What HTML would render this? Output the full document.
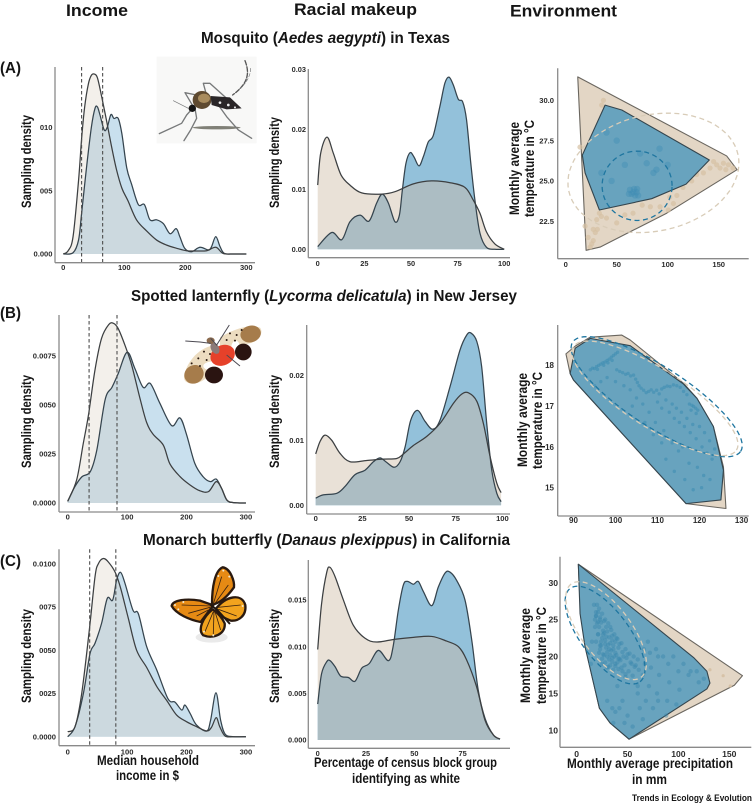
<!DOCTYPE html>
<html lang="en"><head><meta charset="utf-8"><title>Sampling density by income, racial makeup and environment</title>
<style>
html,body{margin:0;padding:0;background:#fff;width:754px;height:804px;overflow:hidden}
svg{display:block;filter:blur(.35px)}
text{font-family:"Liberation Sans",sans-serif;font-weight:700;fill:#151515}
.tick{fill:#2c2c2c}
</style></head><body>
<svg id="chart" xmlns="http://www.w3.org/2000/svg" width="754" height="804" viewBox="0 0 754 804">
<rect width="754" height="804" fill="#fff"/>
<defs id="defs"></defs>
<g id="marks"></g>

<g>
<text x="66" y="16" font-size="17" textLength="62" lengthAdjust="spacingAndGlyphs">Income</text>
<text x="294" y="15" font-size="17" textLength="123" lengthAdjust="spacingAndGlyphs">Racial makeup</text>
<text x="510" y="16.5" font-size="17" textLength="107" lengthAdjust="spacingAndGlyphs">Environment</text>
</g>
<g>
<text x="201" y="43" font-size="15.5" textLength="249" lengthAdjust="spacingAndGlyphs">Mosquito (<tspan font-style="italic">Aedes aegypti</tspan>) in Texas</text>
<text x="131" y="301" font-size="15.5" textLength="386" lengthAdjust="spacingAndGlyphs">Spotted lanternfly (<tspan font-style="italic">Lycorma delicatula</tspan>) in New Jersey</text>
<text x="143" y="545" font-size="15.5" textLength="367" lengthAdjust="spacingAndGlyphs">Monarch butterfly (<tspan font-style="italic">Danaus plexippus</tspan>) in California</text>
<text x="0" y="73" font-size="16" textLength="21" lengthAdjust="spacingAndGlyphs">(A)</text>
<text x="0" y="318" font-size="16" textLength="21" lengthAdjust="spacingAndGlyphs">(B)</text>
<text x="0" y="566" font-size="16" textLength="21" lengthAdjust="spacingAndGlyphs">(C)</text>
</g>
<g font-size="13.5" text-anchor="middle">
<text transform="translate(31,161.5) rotate(-90)" textLength="93" lengthAdjust="spacingAndGlyphs">Sampling density</text>
<text transform="translate(31,421.5) rotate(-90)" textLength="93" lengthAdjust="spacingAndGlyphs">Sampling density</text>
<text transform="translate(31,656) rotate(-90)" textLength="94" lengthAdjust="spacingAndGlyphs">Sampling density</text>
<text transform="translate(279,162.5) rotate(-90)" textLength="91" lengthAdjust="spacingAndGlyphs">Sampling density</text>
<text transform="translate(279,421.5) rotate(-90)" textLength="93" lengthAdjust="spacingAndGlyphs">Sampling density</text>
<text transform="translate(279,656) rotate(-90)" textLength="94" lengthAdjust="spacingAndGlyphs">Sampling density</text>
<text transform="translate(519,168.5) rotate(-90)" textLength="93" lengthAdjust="spacingAndGlyphs">Monthly average</text>
<text transform="translate(534,168.5) rotate(-90)" textLength="97" lengthAdjust="spacingAndGlyphs">temperature in °C</text>
<text transform="translate(527,420) rotate(-90)" textLength="94" lengthAdjust="spacingAndGlyphs">Monthly average</text>
<text transform="translate(542,420.5) rotate(-90)" textLength="97" lengthAdjust="spacingAndGlyphs">temperature in °C</text>
<text transform="translate(530,655.5) rotate(-90)" textLength="95" lengthAdjust="spacingAndGlyphs">Monthly average</text>
<text transform="translate(546,655.5) rotate(-90)" textLength="97" lengthAdjust="spacingAndGlyphs">temperature in °C</text>
<text x="148" y="765" textLength="102" lengthAdjust="spacingAndGlyphs">Median household</text>
<text x="147.5" y="780" textLength="63" lengthAdjust="spacingAndGlyphs">income in $</text>
<text x="405.5" y="767" textLength="183" lengthAdjust="spacingAndGlyphs">Percentage of census block group</text>
<text x="406" y="783" textLength="108" lengthAdjust="spacingAndGlyphs">identifying as white</text>
<text x="650" y="768" textLength="166" lengthAdjust="spacingAndGlyphs">Monthly average precipitation</text>
<text x="649.5" y="784" textLength="35" lengthAdjust="spacingAndGlyphs">in mm</text>
</g>
<text x="632" y="801" font-size="9.5" textLength="120" lengthAdjust="spacingAndGlyphs">Trends in Ecology &amp; Evolution</text>

<g transform="translate(0,40) scale(.3333)">
<rect x="470" y="50" width="300" height="260" fill="#f8f8f7"/>
<ellipse cx="650" cy="263" rx="72" ry="5" fill="#4d4d40" opacity=".7"/>
<g fill="none" stroke="#77797a" stroke-width="4" stroke-linecap="round" stroke-linejoin="round">
<path d="M478 281 L545 250 L560 225 L578 205"/>
<path d="M552 302 L572 270 L590 235 L585 205"/>
<path d="M755 295 L715 270 L680 230 L655 195"/>
<path d="M590 165 L555 158 L580 200"/>
<path d="M612 130 L630 130 L680 175"/>
<path d="M610 130 L625 185"/>
<path d="M520 182 L565 205" stroke-width="2"/>
<path d="M735 62 C750 100 745 130 698 165" stroke-dasharray="14 5" stroke="#555"/>
<path d="M752 85 C752 110 735 135 715 150" stroke-dasharray="10 6" stroke-width="2"/>
</g>
<ellipse cx="606" cy="180" rx="28" ry="27" fill="#5f4a30"/>
<ellipse cx="612" cy="175" rx="18" ry="14" fill="#a98c5e"/>
<path d="M632 168 L690 172 L725 205 L680 208 L635 195 Z" fill="#2a2628"/>
<circle cx="660" cy="188" r="4" fill="#eee"/><circle cx="685" cy="195" r="4" fill="#eee"/><circle cx="705" cy="202" r="3" fill="#eee"/>
<ellipse cx="577" cy="205" rx="11" ry="11" fill="#141414"/>
</g>

<g transform="translate(0,280) scale(.3333)">
<path d="M650 195 C600 198 558 245 552 292 C552 316 595 318 620 292 C640 270 655 240 662 215 Z" fill="#ecdcc0"/>
<ellipse cx="582" cy="283" rx="30" ry="27" fill="#a67c4b" transform="rotate(-35 582 283)"/>
<path d="M660 172 C700 148 750 130 780 143 C794 160 772 188 740 192 C710 198 680 208 660 205 Z" fill="#ecdcc0"/>
<ellipse cx="752" cy="162" rx="31" ry="25" fill="#a67c4b" transform="rotate(-15 752 162)"/>
<ellipse cx="640" cy="258" rx="30" ry="14" fill="#fff"/>
<ellipse cx="707" cy="208" rx="14" ry="26" fill="#fff"/>
<ellipse cx="642" cy="285" rx="27" ry="25" fill="#2a1411"/>
<ellipse cx="730" cy="216" rx="25" ry="25" fill="#2a1411"/>
<ellipse cx="668" cy="226" rx="38" ry="30" fill="#e6412a" transform="rotate(-25 668 226)"/>
<ellipse cx="645" cy="205" rx="12" ry="18" fill="#8b7a78" transform="rotate(-30 645 205)"/>
<ellipse cx="632" cy="182" rx="12" ry="10" fill="#8a6a4e"/>
<path d="M632 175 L650 195 L688 135 M632 190 L600 186 L556 183 M680 225 L720 258" fill="none" stroke="#4c4a52" stroke-width="3"/>
<g fill="#2a1a12"><circle cx="612" cy="215" r="3"/><circle cx="595" cy="235" r="3"/><circle cx="620" cy="240" r="3"/><circle cx="575" cy="250" r="3"/><circle cx="600" cy="258" r="3"/><circle cx="630" cy="222" r="3"/><circle cx="690" cy="160" r="3"/><circle cx="710" cy="165" r="3"/><circle cx="725" cy="150" r="3"/><circle cx="680" cy="180" r="3"/><circle cx="705" cy="182" r="3"/></g>
</g>

<g transform="translate(0,530) scale(.3333)">
<ellipse cx="635" cy="322" rx="48" ry="16" fill="#dcdcdc" opacity=".6"/>
<g stroke="#2a1a10" stroke-width="7" stroke-linejoin="round">
<path d="M640 226 L602 276 C570 270 528 252 515 228 C518 210 560 205 600 212 Z" fill="#e68a14"/>
<path d="M636 224 C636 170 645 122 668 112 C692 115 704 155 702 172 C682 200 660 220 636 224 Z" fill="#e68a14"/>
<path d="M648 236 C678 198 725 188 736 225 C740 258 715 274 693 272 C672 264 652 254 648 236 Z" fill="#f2a31e"/>
<path d="M638 238 C608 262 592 300 610 316 C640 328 678 312 674 280 C666 262 652 248 638 238 Z" fill="#f2a31e"/>
</g>
<g fill="none" stroke="#3a2210" stroke-width="2.5">
<path d="M635 228 L545 225 M630 232 L565 250 M625 240 L590 258 M640 222 L665 140 M645 220 L685 165 M655 232 L722 225 M655 238 L710 258 M640 245 L615 305 M642 245 L640 312 M645 245 L662 300"/>
</g>
<path d="M632 225 L652 240 L690 282" fill="none" stroke="#221711" stroke-width="6"/>
<g fill="#f4ead0"><circle cx="525" cy="225" r="3"/><circle cx="535" cy="238" r="3"/><circle cx="550" cy="216" r="3"/><circle cx="670" cy="122" r="3"/><circle cx="655" cy="138" r="3"/><circle cx="688" cy="140" r="3"/><circle cx="728" cy="228" r="3"/><circle cx="612" cy="305" r="3"/><circle cx="640" cy="316" r="3"/></g>
</g>
</svg>
<script>
// ---- Data. Density values are in units of 0.001. ----
const incomeTicks = [0, 100, 200, 300];
const raceTicks = [0, 25, 50, 75, 100];
const raceTicksC = [0, 25, 50, 75];
const precipTicks = [0, 50, 100, 150];
const precipTicksB = [90, 100, 110, 120, 130];

const aIncomeYTicks = [0, 5, 10];
const aIncomeYLabels = ['0.000', '005', '010'];
const bIncomeYTicks = [0, 2.5, 5, 7.5];
const bIncomeYLabels = ['0.0000', '0025', '0050', '0.0075'];
const cIncomeYTicks = [0, 2.5, 5, 7.5, 10];
const cIncomeYLabels = ['0.0000', '0025', '0050', '0075', '0.0100'];
const aRaceYTicks = [0, 10, 20, 30];
const aRaceYLabels = ['0.00', '0.01', '0.02', '0.03'];
const bRaceYTicks = [0, 10, 20];
const bRaceYLabels = ['0.00', '0.01', '0.02'];
const cRaceYTicks = [0, 5, 10, 15];
const cRaceYLabels = ['0.000', '0.005', '0.010', '0.015'];
const aTempTicks = [22.5, 25, 27.5, 30];
const aTempLabels = ['22.5', '25.0', '27.5', '30.0'];
const bTempTicks = [15, 16, 17, 18];
const bTempLabels = ['15', '16', '17', '18'];
const cTempTicks = [10, 15, 20, 25, 30];
const cTempLabels = ['10', '15', '20', '25', '30'];

const aIncomeMedians = [30, 64.5];
const bIncomeMedians = [36, 83];
const cIncomeMedians = [37, 81];

const aIncomeCensusX = [0,8,16,25,30,35,41,46,51,56,63,71,79,87,96,106,120,137,153,169,186,202,219,235,250,262,279,300];
const aIncomeCensusY = [0,.26,1.37,5.8,9.1,11.6,13.4,14.1,14.2,13.9,12.4,10.5,8.5,6.7,5.2,4.2,2.7,1.8,1.1,.71,.45,.26,.24,.26,.53,.05,0,0];
const aIncomeSampleX = [0,16,25,30,38,46,52,56,60,67,72,78,83,90,96,104,112,123,133,142,153,164,175,185,191,199,210,224,238,243,250,257,264,279,300];
const aIncomeSampleY = [0,.1,1.1,3.2,6.8,10,11.5,11.6,11,9.8,10,11,10.7,10.7,9.5,6.8,5.5,3.9,3.9,2.7,2.7,2.4,1.6,2,1.37,.45,.18,.53,.32,.58,1.37,.58,.05,0,0];

const aRaceCensusX = [0,1.6,5,8.4,12.5,17.3,23.6,34.3,41.4,51.3,61,71,79,83.4,87,90.5,95,100];
const aRaceCensusY = [10.7,16,18.7,16,12.4,10.7,9.4,9.2,9.6,10.9,11.4,11.1,10.3,8.2,6,2.9,.9,0];
const aRaceSampleX = [0,7.5,12.9,17.3,22.7,27.5,31.6,34.6,37.9,41.4,43.8,45.4,47.3,49.5,51.6,54.3,56.6,59.3,62,65.5,68.2,70.4,72.7,75.4,77.7,79.8,82.1,84.3,87,90.5,95,100];
const aRaceSampleY = [.45,2.8,1.6,4.6,5.7,4.7,7.7,9.2,7.7,4.6,5.7,9.9,14.3,16.1,15.4,13.9,15.4,17.9,19,23.8,27.7,28.7,27.4,25,24.6,21.6,14.3,8.2,2.7,.33,0,0];

const bIncomeCensusX = [0,15,26,35,46,57,69,77,85,97,108,122,133,144,161,172,189,206,222,237,250,259,268,279,300];
const bIncomeCensusY = [.085,1.17,3,4.5,6.8,8.4,9.1,9.17,8.9,8,7,5.3,4.1,3.5,2.95,2,1.35,.92,.63,.58,1.09,.75,.15,.02,0];
const bIncomeSampleX = [0,12,24,38,49,63,74.5,85,100,113,127,139,155,175,189,200,214,228,240,250,259,268,279,300];
const bIncomeSampleY = [.085,.83,1.34,1.6,2.7,5.27,5.9,6.6,7.69,6.87,5.9,6.1,5.1,3.95,4.34,3.5,2.02,1.34,1.09,1.22,.75,.15,.02,0];

const bRaceCensusX = [0,2.3,5,8.6,13,18.4,27.3,36,43.4,47,52.3,59.5,66.6,73.8,78.2,81.8,86.3,89.8,93.4,97,99.3];
const bRaceCensusY = [7.9,9.8,10.8,10,8,6.7,6.9,7.1,7.2,7.9,9.2,10.6,12.6,15.7,17.1,17.3,16,12.6,7.5,3.4,1.95];
const bRaceSampleX = [0,4,11.3,15.7,21,26.4,30.9,34.5,38,42,45.2,47.9,50.9,54.6,58.6,62.7,66.6,72,77.3,80.9,83.2,86.3,88.9,91.6,94.3,97,99.3];
const bRaceSampleY = [1.1,1.6,1.85,2.9,4.7,5.4,6.7,7.3,6.6,5.85,6.7,9,13.1,14.6,12.9,11.7,13.1,18.3,23.9,26.2,26.5,25.2,21.3,12.6,5.4,1.85,.56];

const cIncomeCensusX = [0,12.3,23.6,36.5,46,51.6,60,68.4,80,89,102,116,133,150,166.6,183.4,200,217,234,242,250,256,265,279,300];
const cIncomeCensusY = [.29,.58,2.5,6.2,9.25,10,10.3,10.1,9.5,8.6,6.85,5,4,2.9,2.1,1.25,.87,.58,.33,.54,1.1,.58,.04,0,0];
const cIncomeSampleX = [0,12.3,26.4,37.6,46,57,66.7,75.7,82.4,89,96.5,110,119,133,150,169,180.6,192,197.4,206,217,234,240.6,249.6,257.4,265,279,300];
const cIncomeSampleY = [0,.58,2.5,4.8,5.4,6.55,8,7.9,9.06,9.5,8.86,7.3,7.1,5.2,3.85,2.18,2,1.54,1.83,1.35,.67,.33,.96,2.54,.96,.15,0,0];

const cRaceCensusX = [0,2,4.7,6.4,9,13.3,18.4,24.5,30.5,40,49.5,59,66.7,72.8,77,82.2,86.6,90.9,94.3];
const cRaceCensusY = [9.7,14.6,18,18.5,17.5,15,12.3,10.9,10.5,10.8,11,11.1,10.6,10,8.6,5.7,2.1,.54,.1];
const cRaceSampleX = [0,2,4.7,6.4,9,11.9,15.9,19.3,22.8,26.7,31.4,36.6,39,41.7,44.3,46.4,49.5,52,54.7,59,62.4,65.9,68.4,71.9,76.2,79.7,83,86.6,90.9,94.3];
const cRaceSampleY = [3.85,7.1,8.4,8.5,7.85,6.85,6.7,6.3,7.7,8.2,9.6,8.5,10,13.9,16.6,17,16.7,17,15.9,14.4,16.4,17.9,18,17.1,15,10.7,5.4,2.3,.54,.1];

const aHullCensusPrecip = [11.8,157.8,168,99,33.7,20];
const aHullCensusTemp = [31.45,26.55,25.7,23,20.9,20.7];
const aHullSamplePrecip = [38.6,55,140.8,118,84.3,33,19,16.3];
const aHullSampleTemp = [29.7,29.4,26.3,24.8,23.9,23.2,25.5,26.6];
const bHullCensusPrecip = [88.2,90.4,94,101.5,103.5,116.2,119.4,123.3,125.7,126.3,116.8,90,89.2];
const bHullCensusTemp = [18.28,18.47,18.69,18.74,18.62,17.56,17.19,16.5,15.51,14.49,14.61,17.64,17.8];
const bHullSamplePrecip = [89.2,90.4,94,103.5,116.2,119.4,123.3,125.7,125.1,116.8,90];
const bHullSampleTemp = [17.8,18.42,18.66,18.48,17.54,17.19,16.5,15.43,14.7,14.61,17.64];
const cHullCensusPrecip = [1.6,163,155,51.5,32.8,22.3,11.5,3.9];
const cHullCensusTemp = [32.5,17.4,16.1,8.8,11,13,19.5,25.4];
const cHullSamplePrecip = [1.6,115.4,128,131,128,51.5,32.8,22.3,8.2,3.3];
const cHullSampleTemp = [32.5,19.8,18,16.4,15.6,8.8,11,13,21.3,25.8];

// Niche ellipses: centre, then the two semi-axis vectors, in data units.
const aEllipseCensus = [86,25.5, 83,1.12, -11.8,3.53];
const aEllipseSample = [70,24.7, 34.3,0, 0,2.15];
const bEllipseCensus = [109.4,17.19, 19.4,-1.27, 3.8,.6];
const bEllipseSample = [109.8,17.23, 20,-1.34, 3.9,.61];
const cEllipseCensus = [28.9,23.5, 34.4,-6.32, 19.7,2.03];
const cEllipseSample = [27.9,22.9, 34.4,-6.32, 19,1.99];

const aCensusPointsPrecip = [27,31,30.4,33,25.5,35,29,148,154.6,159.5,164,141.5,135,128.4,123.5,109,105.6,100.6,37,35.3,14,19,27,50,66,83,92.5,151.3,157,145,115,102,24,22,40,58,75];
const aCensusPointsTemp = [21.3,22,22.6,23,21.1,22.8,21.8,26,26.1,26,25.8,25.8,25.5,25.4,25,24.1,23.6,23.2,30,29.7,27.1,22.2,22,22.4,23,23.4,23.4,25.8,25.7,26.2,24.6,24,20.9,21.5,22.7,22.9,23.5];
const aSamplePointsPrecip = [66.3,63,69.6,68,71,64.7,67,62,70,86,89,73,79.4,50,45,58,92,100,40,35];
const aSamplePointsTemp = [24.3,24.45,24.3,24.1,24.1,24.2,24.5,24.2,24.5,25.5,25.7,26.7,26.1,27.5,25,26,27,26,28,25.5];
const bPointsPrecip = [94,94.5,95,95.5,96,96.5,97,97.5,98,98.5,99,99.5,100,100.5,95.7,97.2,98.2,99.2,100.3,101,101.7,102.4,103,103.6,104.3,104.8,105.2,105.6,106.1,106.7,107.3,107.9,108.5,109.1,109.8,110.4,111,111.6,112.3,113,113.8,114.6,115.4,116.2,117,117.6,118.2,118.6,119.1,119.6,118,119.2,110,111,112,112.8,113.5,114,114.5,115.2,115.7,116.4,117,117.8,118.4,119.2,120,120.6,121.2,121.8,122.4,123,123.6,116,117.5,119.5,121,120.5,122.5,115,113.5,111.5,109.5,108,106.5,105,103.5,102,100,98,96.5,95,112,114,116.5,118.5,104,107,109,111];
const bPointsTemp = [17.89,17.93,17.92,17.97,18,18.03,18.06,18.08,18.12,18.15,18.2,18.24,18.28,18.32,17.9,18,18.06,18.12,17.89,17.85,17.82,17.78,17.8,17.74,17.76,17.66,17.58,17.5,17.44,17.39,17.33,17.36,17.4,17.34,17.39,17.3,17.42,17.46,17.49,17.48,17.52,17.5,17.46,17.36,17.28,17.05,17.02,16.99,16.95,16.9,16.9,16.82,17.1,16.95,17.15,16.85,17.05,16.7,16.95,16.6,16.85,16.5,16.7,16.35,16.55,16.2,16.5,16,16.35,15.85,16.15,15.7,15.95,16,15.6,15.5,15.3,15,15.2,15.9,16.1,16.4,16.6,16.85,17.05,17.2,17.4,17.5,17.6,17.7,17.6,17.5,15.7,15.4,15.2,14.95,17,16.6,16.3,16.1];
const cPointsPrecip = [18,19,17,18,20,21,19,20,21,19,22,23,22,21,23,22,25,24,26,25,24,26,25,28,29,27,28,29,27,28,31,30,32,31,30,32,31,34,35,33,34,35,33,37,38,36,37,38,36,40,41,39,40,41,44,45,43,44,48,49,47,48,52,53,51,56,57,55,60,61,66,67,65,72,73,71,80,81,79,90,91,89,100,101,60,62,45,47,40,38,35,110,120,15,14,19,21,23,24,26,27,29,30,32,33,35,36,38,39,41,42,46,50,54,58,23,25,28,30,33,35,38,42,45,48,70,78,85,95,105,112,60,68,75,88,98,50,55,42,65,80,118,125,30,36];
const cPointsTemp = [25,26,27,24,27,26,25.5,24.5,23,22,26.5,25,24,23,21.5,20.5,25.8,24.6,23.5,22.5,21.5,20.3,19,25,24,23.2,22.2,21.2,20.2,19.2,24.5,23.4,22.6,21.6,20.6,19.6,18.6,23.6,22.8,21.8,20.8,19.8,18.8,23,22,21,20,19,18.2,22.4,21.2,20.2,19.2,18.3,21.8,20.6,19.5,18.5,21,19.8,18.8,17.6,20.4,19.2,18,20,18.6,17.4,19.6,18.2,21,19,17.5,20.5,18.5,16,20,17.5,15,19,16.5,14,18,15.5,15,13,14,11,16,12.5,13,17.5,16.5,22,19,25.5,24.7,25.3,22,23,24.8,22.7,20,21,24,19.3,21.5,20.5,22.5,19.7,21.7,20,20.3,19,18.8,21,19.7,21.7,18.5,20.2,22.2,18.7,19.7,18,17.2,22,21,20,20,19,18,16,14,13,12,13.5,12,10.5,13,11.5,14,18,17,14,11];
const cCensusPointsPrecip = [144,151,131,82,90];
const cCensusPointsTemp = [17.4,16,18.2,23,22.1];

// ---- Layout (pixel calibration of each panel's axes) ----
const frames = {
  aIncome:{left:55,top:67,bottom:262.7,right:255,x0:63.3,xk:.61,y0:254,yk:12.67,labelRight:52.5,tickBase:270,fs:7.6},
  aRace:{left:308.3,top:69,bottom:257.7,right:510,x0:317.7,xk:1.865,y0:249.3,yk:6,labelRight:306,tickBase:266,fs:7.4},
  aEnv:{left:557.7,top:68.3,bottom:258.7,right:748.7,x0:565.7,xk:1.02,y0:100.3+30*16.13,yk:16.13,labelRight:554,tickBase:267,fs:7.6},
  bIncome:{left:59,top:315,bottom:512,right:255,x0:67.7,xk:.594,y0:503,yk:19.6,labelRight:56,tickBase:519.5,fs:7.6},
  bRace:{left:306.7,top:325,bottom:514,right:510,x0:315.7,xk:1.867,y0:505.3,yk:6.5,labelRight:304,tickBase:521,fs:7.6},
  bEnv:{left:557.7,top:325,bottom:516,right:748.7,x0:573.5-90*4.2,xk:4.2,y0:487.7+15*40.8,yk:40.8,labelRight:554,tickBase:523,fs:8},
  cIncome:{left:59,top:549.3,bottom:745.7,right:255,x0:67.7,xk:.594,y0:736.7,yk:17.3,labelRight:56,tickBase:754.5,fs:7.6},
  cRace:{left:308.3,top:560,bottom:748.3,right:510,x0:317.7,xk:1.933,y0:740,yk:9.33,labelRight:306.5,tickBase:756,fs:7.4},
  cEnv:{left:560,top:556.7,bottom:747.3,right:751.3,x0:576.7,xk:1.017,y0:730.3+10*7.38,yk:7.38,labelRight:558,tickBase:757,fs:8.6}
};
const incomeColors = {tan:'#f3f0eb', blue:'#c9e0ee', both:'#ccd9df'};
const raceColors = {tan:'#e9e1d7', blue:'#93c1da', both:'#acbdc3'};

const root = document.getElementById('marks');
const defs = document.getElementById('defs');
const NS = 'http://www.w3.org/2000/svg';
function make(tag, parent, attrs) {
  const n = document.createElementNS(NS, tag);
  for (const k in attrs) n.setAttribute(k, attrs[k]);
  parent.appendChild(n);
  return n;
}
function scaleX(f, v) { return f.x0 + v * f.xk; }
function scaleY(f, v) { return f.y0 - v * f.yk; }
function smoothPath(pts) {
  let d = 'M' + pts[0][0].toFixed(2) + ' ' + pts[0][1].toFixed(2);
  for (let i = 0; i < pts.length - 1; i++) {
    const p0 = pts[Math.max(0, i - 1)], p1 = pts[i], p2 = pts[i + 1], p3 = pts[Math.min(pts.length - 1, i + 2)];
    const c1x = p1[0] + (p2[0] - p0[0]) / 6, c1y = p1[1] + (p2[1] - p0[1]) / 6;
    const c2x = p2[0] - (p3[0] - p1[0]) / 6, c2y = p2[1] - (p3[1] - p1[1]) / 6;
    d += ' C' + c1x.toFixed(2) + ' ' + c1y.toFixed(2) + ' ' + c2x.toFixed(2) + ' ' + c2y.toFixed(2) + ' ' + p2[0].toFixed(2) + ' ' + p2[1].toFixed(2);
  }
  return d;
}
function drawAxes(g, id, f, xTicks, yTicks, yLabels) {
  const yAxis = make('line', g, {x1:f.left, x2:f.left, y1:f.top, y2:f.bottom, stroke:'#8a8a8a', 'stroke-width':1.3});
  
  
  const xAxis = make('line', g, {x1:f.left, x2:f.right, y1:f.bottom, y2:f.bottom, stroke:'#8a8a8a', 'stroke-width':1.3});
  
  
  xTicks.forEach(function (v) {
    const label = make('text', g, {x:scaleX(f, v), y:f.tickBase, 'font-size':f.fs, 'text-anchor':'middle', class:'tick'});
    
    
    label.textContent = String(v);
  });
  yTicks.forEach(function (v, i) {
    const label = make('text', g, {x:f.labelRight, y:scaleY(f, v) + f.fs * .36, 'font-size':f.fs, 'text-anchor':'end', class:'tick'});
    
    
    label.textContent = yLabels[i];
  });
}
function curvePoints(f, xs, ys) {
  const pts = [];
  const count = Math.min(xs.length, ys.length);
  for (let i = 0; i < count; i++) pts.push([scaleX(f, xs[i]), scaleY(f, ys[i])]);
  return pts;
}
function drawDensity(id, f, colors, tanX, tanY, blueX, blueY, xTicks, yTicks, yLabels, medians) {
  const g = make('g', root, {});
  
  
  const tanPts = curvePoints(f, tanX, tanY), bluePts = curvePoints(f, blueX, blueY);
  const base = scaleY(f, 0);
  const close = function (pts) { return ' L' + pts[pts.length - 1][0].toFixed(2) + ' ' + base + ' L' + pts[0][0].toFixed(2) + ' ' + base + ' Z'; };
  const tanLine = smoothPath(tanPts), blueLine = smoothPath(bluePts);
  const clip = make('clipPath', defs, {id:'clip-' + id});
  make('path', clip, {d:blueLine + close(bluePts)});
  const tanArea = make('path', g, {d:tanLine + close(tanPts), fill:colors.tan});
  
  
  const blueArea = make('path', g, {d:blueLine + close(bluePts), fill:colors.blue});
  
  
  const both = make('path', g, {d:tanLine + close(tanPts), fill:colors.both, 'clip-path':'url(#clip-' + id + ')'});
  
  
  const blueStroke = make('path', g, {d:blueLine, fill:'none', stroke:'#35444e', 'stroke-width':1.25});
  
  
  const tanStroke = make('path', g, {d:tanLine, fill:'none', stroke:'#3c3f41', 'stroke-width':1.25});
  
  
  medians.forEach(function (v) {
    const m = make('line', g, {x1:scaleX(f, v), x2:scaleX(f, v), y1:f.top, y2:f.bottom, stroke:'#4d4d4d', 'stroke-width':1.1, 'stroke-dasharray':'3.5 2.5'});
    
    
  });
  drawAxes(g, id, f, xTicks, yTicks, yLabels);
}
function drawHull(g, f, xs, ys, fill, stroke, name) {
  const pts = curvePoints(f, xs, ys).map(function (p) { return p[0].toFixed(2) + ',' + p[1].toFixed(2); }).join(' ');
  const poly = make('polygon', g, {points:pts, fill:fill, stroke:stroke, 'stroke-width':1.1, 'stroke-linejoin':'round'});
  
  
}
function drawPoints(g, f, xs, ys, color, r, opacity, name) {
  const pts = curvePoints(f, xs, ys);
  pts.forEach(function (p) {
    const c = make('circle', g, {cx:p[0].toFixed(2), cy:p[1].toFixed(2), r:r, fill:color, opacity:opacity});
    
    
  });
}
function drawEllipse(g, f, e, color, name) {
  const pts = [];
  for (let i = 0; i <= 72; i++) {
    const t = i / 72 * Math.PI * 2;
    pts.push(scaleX(f, e[0] + Math.cos(t) * e[2] + Math.sin(t) * e[4]).toFixed(2) + ',' + scaleY(f, e[1] + Math.cos(t) * e[3] + Math.sin(t) * e[5]).toFixed(2));
  }
  const l = make('polyline', g, {points:pts.join(' '), fill:'none', stroke:color, 'stroke-width':1.3, 'stroke-dasharray':'5 3.5'});
  
  
}

drawDensity('a-income', frames.aIncome, incomeColors, aIncomeCensusX, aIncomeCensusY, aIncomeSampleX, aIncomeSampleY, incomeTicks, aIncomeYTicks, aIncomeYLabels, aIncomeMedians);
drawDensity('a-race', frames.aRace, raceColors, aRaceCensusX, aRaceCensusY, aRaceSampleX, aRaceSampleY, raceTicks, aRaceYTicks, aRaceYLabels, []);
drawDensity('b-income', frames.bIncome, incomeColors, bIncomeCensusX, bIncomeCensusY, bIncomeSampleX, bIncomeSampleY, incomeTicks, bIncomeYTicks, bIncomeYLabels, bIncomeMedians);
drawDensity('b-race', frames.bRace, raceColors, bRaceCensusX, bRaceCensusY, bRaceSampleX, bRaceSampleY, raceTicks, bRaceYTicks, bRaceYLabels, []);
drawDensity('c-income', frames.cIncome, incomeColors, cIncomeCensusX, cIncomeCensusY, cIncomeSampleX, cIncomeSampleY, incomeTicks, cIncomeYTicks, cIncomeYLabels, cIncomeMedians);
drawDensity('c-race', frames.cRace, raceColors, cRaceCensusX, cRaceCensusY, cRaceSampleX, cRaceSampleY, raceTicksC, cRaceYTicks, cRaceYLabels, []);

const tanFill = '#e3d6c5', tanEdge = '#6a665f', blueFill = '#68a3be', blueEdge = '#34454e';

const envA = make('g', root, {});


drawHull(envA, frames.aEnv, aHullCensusPrecip, aHullCensusTemp, tanFill, tanEdge, 'a-census-hull');
drawPoints(envA, frames.aEnv, aCensusPointsPrecip, aCensusPointsTemp, '#d5c0a3', 2.6, .7, 'a-census-point');
drawHull(envA, frames.aEnv, aHullSamplePrecip, aHullSampleTemp, blueFill, blueEdge, 'a-sample-hull');
drawPoints(envA, frames.aEnv, aSamplePointsPrecip, aSamplePointsTemp, '#3f8db3', 3.2, .4, 'a-sample-point');
drawEllipse(envA, frames.aEnv, aEllipseCensus, '#d8ccb8', 'a-census-niche-ellipse');
drawEllipse(envA, frames.aEnv, aEllipseSample, '#1f76a0', 'a-sample-niche-ellipse');
drawAxes(envA, 'a-environment', frames.aEnv, precipTicks, aTempTicks, aTempLabels);

const envB = make('g', root, {});


drawHull(envB, frames.bEnv, bHullCensusPrecip, bHullCensusTemp, tanFill, tanEdge, 'b-census-hull');
drawHull(envB, frames.bEnv, bHullSamplePrecip, bHullSampleTemp, blueFill, blueEdge, 'b-sample-hull');
drawPoints(envB, frames.bEnv, bPointsPrecip, bPointsTemp, '#3f8db3', 1.7, .6, 'b-sample-point');
drawEllipse(envB, frames.bEnv, bEllipseSample, '#1f76a0', 'b-sample-niche-ellipse');
drawEllipse(envB, frames.bEnv, bEllipseCensus, '#d8ccb8', 'b-census-niche-ellipse');
drawAxes(envB, 'b-environment', frames.bEnv, precipTicksB, bTempTicks, bTempLabels);

const envC = make('g', root, {});


drawHull(envC, frames.cEnv, cHullCensusPrecip, cHullCensusTemp, tanFill, tanEdge, 'c-census-hull');
drawPoints(envC, frames.cEnv, cCensusPointsPrecip, cCensusPointsTemp, '#d5c0a3', 1.6, .9, 'c-census-point');
drawHull(envC, frames.cEnv, cHullSamplePrecip, cHullSampleTemp, blueFill, blueEdge, 'c-sample-hull');
drawPoints(envC, frames.cEnv, cPointsPrecip, cPointsTemp, '#3a88ae', 2.2, .45, 'c-sample-point');
drawEllipse(envC, frames.cEnv, cEllipseSample, '#1f76a0', 'c-sample-niche-ellipse');
drawEllipse(envC, frames.cEnv, cEllipseCensus, '#d8ccb8', 'c-census-niche-ellipse');
drawAxes(envC, 'c-environment', frames.cEnv, precipTicks, cTempTicks, cTempLabels);
</script>
</body></html>
